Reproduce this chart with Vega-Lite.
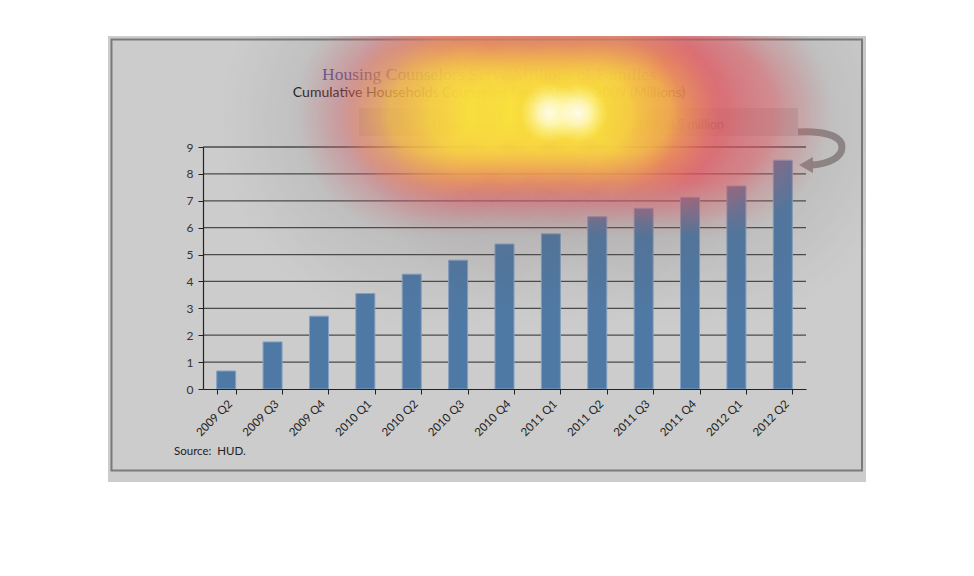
{
  "$schema": "https://vega.github.io/schema/vega-lite/v6.json",
  "width": 603,
  "height": 242,
  "autosize": {"type": "none"},
  "padding": {"left": 203, "top": 147, "right": 168, "bottom": 187},
  "background": "white",
  "config": {"view": {"stroke": null}},
  "datasets": {
    "counsel": [
      {"quarter": "2009 Q2", "households": 0.67},
      {"quarter": "2009 Q3", "households": 1.75},
      {"quarter": "2009 Q4", "households": 2.71},
      {"quarter": "2010 Q1", "households": 3.55},
      {"quarter": "2010 Q2", "households": 4.27},
      {"quarter": "2010 Q3", "households": 4.79},
      {"quarter": "2010 Q4", "households": 5.39},
      {"quarter": "2011 Q1", "households": 5.77},
      {"quarter": "2011 Q2", "households": 6.41},
      {"quarter": "2011 Q3", "households": 6.72},
      {"quarter": "2011 Q4", "households": 7.13},
      {"quarter": "2012 Q1", "households": 7.55},
      {"quarter": "2012 Q2", "households": 8.51}
    ],
    "grid": [{"g": 1}, {"g": 2}, {"g": 3}, {"g": 4}, {"g": 5}, {"g": 6}, {"g": 7}, {"g": 8}, {"g": 9}],
    "one": [{}]
  },
  "resolve": {"scale": {"x": "independent", "y": "independent"}},
  "layer": [
    {"data": {"name": "one"}, "mark": {"type": "rect", "fill": "#cccccc"},
      "encoding": {"x": {"datum": -2.048, "type": "quantitative", "scale": {"domain": [0, 13], "nice": false, "zero": false}, "axis": null}, "x2": {"datum": 14.294},
        "y": {"datum": 13.128, "type": "quantitative", "scale": {"domain": [0, 9], "nice": false, "zero": false}, "axis": null}, "y2": {"datum": -3.459}}},
    {"data": {"name": "one"}, "mark": {"type": "rect", "fill": null, "stroke": "#7a7a7a", "strokeWidth": 2},
      "encoding": {"x": {"datum": -1.973, "type": "quantitative", "scale": {"domain": [0, 13], "nice": false, "zero": false}, "axis": null}, "x2": {"datum": 14.207},
        "y": {"datum": 12.998, "type": "quantitative", "scale": {"domain": [0, 9], "nice": false, "zero": false}, "axis": null}, "y2": {"datum": -3.031}}},
    {"data": {"name": "grid"}, "mark": {"type": "rule", "stroke": "#4a4a4a", "strokeWidth": 1.3},
      "encoding": {"y": {"field": "g", "type": "quantitative", "scale": {"domain": [0, 9], "nice": false, "zero": false}, "axis": null}}},
    {
      "data": {"name": "counsel"},
      "mark": {"type": "bar", "fill": "#4f79a5", "stroke": "#86a0c2", "strokeWidth": 1},
      "encoding": {
        "x": {
          "field": "quarter", "type": "nominal", "sort": null,
          "scale": {"paddingInner": 0.59, "paddingOuter": 0.295},
          "axis": {
            "title": null, "labelAngle": -45, "labelFont": "Lato", "labelFontSize": 11.5, "labelColor": "#222222",
            "tickBand": "extent", "tickSize": 5, "tickColor": "#222222", "domainColor": "#222222", "domainWidth": 1.2,
            "labelPadding": 4, "zindex": 1
          }
        },
        "y": {
          "field": "households", "type": "quantitative",
          "scale": {"domain": [0, 9], "nice": false, "zero": false},
          "axis": {
            "title": null, "values": [0, 1, 2, 3, 4, 5, 6, 7, 8, 9], "grid": false, "labelFont": "Lato", "labelFontSize": 12,
            "labelColor": "#333333", "tickSize": 5, "tickColor": "#222222", "domainColor": "#222222", "domainWidth": 1.2,
            "labelPadding": 5, "zindex": 1
          }
        }
      }
    },
    {"data": {"name": "one"}, "mark": {"type": "rect", "fill": "#8f8f8f", "fillOpacity": 0.3},
      "encoding": {"x": {"datum": 3.363, "type": "quantitative", "scale": {"domain": [0, 13], "nice": false, "zero": false}, "axis": null}, "x2": {"datum": 12.828},
        "y": {"datum": 10.450, "type": "quantitative", "scale": {"domain": [0, 9], "nice": false, "zero": false}, "axis": null}, "y2": {"datum": 9.409}}},
    {"data": {"name": "one"}, "mark": {"type": "text", "text": "Households counseled since April 1, 2009: 8.5 million", "font": "Lato", "fontSize": 12.5, "color": "#808080", "align": "center", "baseline": "alphabetic"},
      "encoding": {"x": {"datum": 8.085, "type": "quantitative", "scale": {"domain": [0, 13], "nice": false, "zero": false}, "axis": null},
        "y": {"datum": 9.669, "type": "quantitative", "scale": {"domain": [0, 9], "nice": false, "zero": false}, "axis": null}}},
    {"data": {"name": "one"}, "mark": {"type": "point", "shape": "M -0.88 -0.56 C 0 -0.62 0.88 -0.45 0.88 0.04 C 0.88 0.48 0.3 0.72 -0.32 0.76", "size": 2500, "filled": false, "stroke": "#8b8282", "strokeWidth": 7, "opacity": 0.9},
      "encoding": {"x": {"datum": 13.302, "type": "quantitative", "scale": {"domain": [0, 13], "nice": false, "zero": false}, "axis": null},
        "y": {"datum": 9.037, "type": "quantitative", "scale": {"domain": [0, 9], "nice": false, "zero": false}, "axis": null}}},
    {"data": {"name": "one"}, "mark": {"type": "point", "shape": "triangle-left", "size": 256, "filled": true, "fill": "#8b8282", "opacity": 0.9},
      "encoding": {"x": {"datum": 13.0, "type": "quantitative", "scale": {"domain": [0, 13], "nice": false, "zero": false}, "axis": null},
        "y": {"datum": 8.331, "type": "quantitative", "scale": {"domain": [0, 9], "nice": false, "zero": false}, "axis": null}}},
    {"data": {"name": "one"}, "mark": {"type": "text", "text": "Housing Counselors Serve Millions of Families", "font": "Liberation Serif", "fontSize": 17.5, "color": "#4a5a96", "align": "center", "baseline": "alphabetic"},
      "encoding": {"x": {"datum": 6.166, "type": "quantitative", "scale": {"domain": [0, 13], "nice": false, "zero": false}, "axis": null},
        "y": {"datum": 11.491, "type": "quantitative", "scale": {"domain": [0, 9], "nice": false, "zero": false}, "axis": null}}},
    {"data": {"name": "one"}, "mark": {"type": "text", "text": "Cumulative Households Counseled Since April 1, 2009 (Millions)", "font": "Lato", "fontSize": 14, "color": "#1a1a1a", "align": "center", "baseline": "alphabetic"},
      "encoding": {"x": {"datum": 6.166, "type": "quantitative", "scale": {"domain": [0, 13], "nice": false, "zero": false}, "axis": null},
        "y": {"datum": 10.859, "type": "quantitative", "scale": {"domain": [0, 9], "nice": false, "zero": false}, "axis": null}}},
    {"data": {"name": "one"}, "mark": {"type": "text", "text": "Source:\u00a0 HUD.", "font": "Lato", "fontSize": 11.5, "color": "#222222", "align": "left", "baseline": "alphabetic"},
      "encoding": {"x": {"datum": -0.625, "type": "quantitative", "scale": {"domain": [0, 13], "nice": false, "zero": false}, "axis": null},
        "y": {"datum": -2.455, "type": "quantitative", "scale": {"domain": [0, 9], "nice": false, "zero": false}, "axis": null}}},

    {"data": {"name": "one"}, "mark": {"type": "point", "shape": "circle", "size": 176400, "filled": true, "strokeWidth": 0, "opacity": 1,
      "fill": {"gradient": "radial", "x1": 0.5, "y1": 0.5, "r1": 0, "x2": 0.5, "y2": 0.5, "r2": 0.5, "stops": [{"offset": 0, "color": "rgba(100,90,90,0.17)"}, {"offset": 0.5, "color": "rgba(100,90,90,0.14)"}, {"offset": 1, "color": "rgba(100,90,90,0)"}]}},
      "encoding": {"x": {"datum": 4.894, "type": "quantitative", "scale": {"domain": [0, 13], "nice": false, "zero": false}, "axis": null}, "y": {"datum": 10.004, "type": "quantitative", "scale": {"domain": [0, 9], "nice": false, "zero": false}, "axis": null}}},
    {"data": {"name": "one"}, "mark": {"type": "point", "shape": "circle", "size": 176400, "filled": true, "strokeWidth": 0, "opacity": 1,
      "fill": {"gradient": "radial", "x1": 0.5, "y1": 0.5, "r1": 0, "x2": 0.5, "y2": 0.5, "r2": 0.5, "stops": [{"offset": 0, "color": "rgba(100,90,90,0.17)"}, {"offset": 0.5, "color": "rgba(100,90,90,0.14)"}, {"offset": 1, "color": "rgba(100,90,90,0)"}]}},
      "encoding": {"x": {"datum": 7.783, "type": "quantitative", "scale": {"domain": [0, 13], "nice": false, "zero": false}, "axis": null}, "y": {"datum": 10.004, "type": "quantitative", "scale": {"domain": [0, 9], "nice": false, "zero": false}, "axis": null}}},
    {"data": {"name": "one"}, "mark": {"type": "point", "shape": "circle", "size": 176400, "filled": true, "strokeWidth": 0, "opacity": 1,
      "fill": {"gradient": "radial", "x1": 0.5, "y1": 0.5, "r1": 0, "x2": 0.5, "y2": 0.5, "r2": 0.5, "stops": [{"offset": 0, "color": "rgba(100,90,90,0.17)"}, {"offset": 0.5, "color": "rgba(100,90,90,0.14)"}, {"offset": 1, "color": "rgba(100,90,90,0)"}]}},
      "encoding": {"x": {"datum": 10.715, "type": "quantitative", "scale": {"domain": [0, 13], "nice": false, "zero": false}, "axis": null}, "y": {"datum": 10.004, "type": "quantitative", "scale": {"domain": [0, 9], "nice": false, "zero": false}, "axis": null}}},

    {"data": {"name": "one"}, "mark": {"type": "point", "shape": "circle", "size": 62500, "filled": true, "strokeWidth": 0, "opacity": 1,
      "fill": {"gradient": "radial", "x1": 0.5, "y1": 0.5, "r1": 0, "x2": 0.5, "y2": 0.5, "r2": 0.5, "stops": [{"offset": 0, "color": "rgba(235,80,90,0.4)"}, {"offset": 0.55, "color": "rgba(235,80,90,0.4)"}, {"offset": 0.8, "color": "rgba(225,95,105,0.19)"}, {"offset": 1, "color": "rgba(210,110,120,0)"}]}},
      "encoding": {"x": {"datum": 4.678, "type": "quantitative", "scale": {"domain": [0, 13], "nice": false, "zero": false}, "axis": null}, "y": {"datum": 10.264, "type": "quantitative", "scale": {"domain": [0, 9], "nice": false, "zero": false}, "axis": null}}},
    {"data": {"name": "one"}, "mark": {"type": "point", "shape": "circle", "size": 62500, "filled": true, "strokeWidth": 0, "opacity": 1,
      "fill": {"gradient": "radial", "x1": 0.5, "y1": 0.5, "r1": 0, "x2": 0.5, "y2": 0.5, "r2": 0.5, "stops": [{"offset": 0, "color": "rgba(235,80,90,0.4)"}, {"offset": 0.55, "color": "rgba(235,80,90,0.4)"}, {"offset": 0.8, "color": "rgba(225,95,105,0.19)"}, {"offset": 1, "color": "rgba(210,110,120,0)"}]}},
      "encoding": {"x": {"datum": 5.713, "type": "quantitative", "scale": {"domain": [0, 13], "nice": false, "zero": false}, "axis": null}, "y": {"datum": 10.264, "type": "quantitative", "scale": {"domain": [0, 9], "nice": false, "zero": false}, "axis": null}}},
    {"data": {"name": "one"}, "mark": {"type": "point", "shape": "circle", "size": 62500, "filled": true, "strokeWidth": 0, "opacity": 1,
      "fill": {"gradient": "radial", "x1": 0.5, "y1": 0.5, "r1": 0, "x2": 0.5, "y2": 0.5, "r2": 0.5, "stops": [{"offset": 0, "color": "rgba(235,80,90,0.4)"}, {"offset": 0.55, "color": "rgba(235,80,90,0.4)"}, {"offset": 0.8, "color": "rgba(225,95,105,0.19)"}, {"offset": 1, "color": "rgba(210,110,120,0)"}]}},
      "encoding": {"x": {"datum": 6.748, "type": "quantitative", "scale": {"domain": [0, 13], "nice": false, "zero": false}, "axis": null}, "y": {"datum": 10.264, "type": "quantitative", "scale": {"domain": [0, 9], "nice": false, "zero": false}, "axis": null}}},
    {"data": {"name": "one"}, "mark": {"type": "point", "shape": "circle", "size": 62500, "filled": true, "strokeWidth": 0, "opacity": 1,
      "fill": {"gradient": "radial", "x1": 0.5, "y1": 0.5, "r1": 0, "x2": 0.5, "y2": 0.5, "r2": 0.5, "stops": [{"offset": 0, "color": "rgba(235,80,90,0.4)"}, {"offset": 0.55, "color": "rgba(235,80,90,0.4)"}, {"offset": 0.8, "color": "rgba(225,95,105,0.19)"}, {"offset": 1, "color": "rgba(210,110,120,0)"}]}},
      "encoding": {"x": {"datum": 7.783, "type": "quantitative", "scale": {"domain": [0, 13], "nice": false, "zero": false}, "axis": null}, "y": {"datum": 10.264, "type": "quantitative", "scale": {"domain": [0, 9], "nice": false, "zero": false}, "axis": null}}},
    {"data": {"name": "one"}, "mark": {"type": "point", "shape": "circle", "size": 62500, "filled": true, "strokeWidth": 0, "opacity": 1,
      "fill": {"gradient": "radial", "x1": 0.5, "y1": 0.5, "r1": 0, "x2": 0.5, "y2": 0.5, "r2": 0.5, "stops": [{"offset": 0, "color": "rgba(235,80,90,0.4)"}, {"offset": 0.55, "color": "rgba(235,80,90,0.4)"}, {"offset": 0.8, "color": "rgba(225,95,105,0.19)"}, {"offset": 1, "color": "rgba(210,110,120,0)"}]}},
      "encoding": {"x": {"datum": 8.818, "type": "quantitative", "scale": {"domain": [0, 13], "nice": false, "zero": false}, "axis": null}, "y": {"datum": 10.264, "type": "quantitative", "scale": {"domain": [0, 9], "nice": false, "zero": false}, "axis": null}}},
    {"data": {"name": "one"}, "mark": {"type": "point", "shape": "circle", "size": 62500, "filled": true, "strokeWidth": 0, "opacity": 1,
      "fill": {"gradient": "radial", "x1": 0.5, "y1": 0.5, "r1": 0, "x2": 0.5, "y2": 0.5, "r2": 0.5, "stops": [{"offset": 0, "color": "rgba(235,80,90,0.4)"}, {"offset": 0.55, "color": "rgba(235,80,90,0.4)"}, {"offset": 0.8, "color": "rgba(225,95,105,0.19)"}, {"offset": 1, "color": "rgba(210,110,120,0)"}]}},
      "encoding": {"x": {"datum": 9.853, "type": "quantitative", "scale": {"domain": [0, 13], "nice": false, "zero": false}, "axis": null}, "y": {"datum": 10.264, "type": "quantitative", "scale": {"domain": [0, 9], "nice": false, "zero": false}, "axis": null}}},
    {"data": {"name": "one"}, "mark": {"type": "point", "shape": "circle", "size": 62500, "filled": true, "strokeWidth": 0, "opacity": 1,
      "fill": {"gradient": "radial", "x1": 0.5, "y1": 0.5, "r1": 0, "x2": 0.5, "y2": 0.5, "r2": 0.5, "stops": [{"offset": 0, "color": "rgba(235,80,90,0.4)"}, {"offset": 0.55, "color": "rgba(235,80,90,0.4)"}, {"offset": 0.8, "color": "rgba(225,95,105,0.19)"}, {"offset": 1, "color": "rgba(210,110,120,0)"}]}},
      "encoding": {"x": {"datum": 10.887, "type": "quantitative", "scale": {"domain": [0, 13], "nice": false, "zero": false}, "axis": null}, "y": {"datum": 10.264, "type": "quantitative", "scale": {"domain": [0, 9], "nice": false, "zero": false}, "axis": null}}},

    {"data": {"name": "one"}, "mark": {"type": "point", "shape": "circle", "size": 32400, "filled": true, "strokeWidth": 0, "opacity": 1,
      "fill": {"gradient": "radial", "x1": 0.5, "y1": 0.5, "r1": 0, "x2": 0.5, "y2": 0.5, "r2": 0.5, "stops": [{"offset": 0, "color": "rgba(255,255,50,0.42)"}, {"offset": 0.45, "color": "rgba(255,255,50,0.42)"}, {"offset": 0.7, "color": "rgba(255,240,60,0.22)"}, {"offset": 1, "color": "rgba(250,200,70,0)"}]}},
      "encoding": {"x": {"datum": 4.894, "type": "quantitative", "scale": {"domain": [0, 13], "nice": false, "zero": false}, "axis": null}, "y": {"datum": 10.264, "type": "quantitative", "scale": {"domain": [0, 9], "nice": false, "zero": false}, "axis": null}}},
    {"data": {"name": "one"}, "mark": {"type": "point", "shape": "circle", "size": 32400, "filled": true, "strokeWidth": 0, "opacity": 1,
      "fill": {"gradient": "radial", "x1": 0.5, "y1": 0.5, "r1": 0, "x2": 0.5, "y2": 0.5, "r2": 0.5, "stops": [{"offset": 0, "color": "rgba(255,255,50,0.42)"}, {"offset": 0.45, "color": "rgba(255,255,50,0.42)"}, {"offset": 0.7, "color": "rgba(255,240,60,0.22)"}, {"offset": 1, "color": "rgba(250,200,70,0)"}]}},
      "encoding": {"x": {"datum": 5.756, "type": "quantitative", "scale": {"domain": [0, 13], "nice": false, "zero": false}, "axis": null}, "y": {"datum": 10.264, "type": "quantitative", "scale": {"domain": [0, 9], "nice": false, "zero": false}, "axis": null}}},
    {"data": {"name": "one"}, "mark": {"type": "point", "shape": "circle", "size": 32400, "filled": true, "strokeWidth": 0, "opacity": 1,
      "fill": {"gradient": "radial", "x1": 0.5, "y1": 0.5, "r1": 0, "x2": 0.5, "y2": 0.5, "r2": 0.5, "stops": [{"offset": 0, "color": "rgba(255,255,50,0.42)"}, {"offset": 0.45, "color": "rgba(255,255,50,0.42)"}, {"offset": 0.7, "color": "rgba(255,240,60,0.22)"}, {"offset": 1, "color": "rgba(250,200,70,0)"}]}},
      "encoding": {"x": {"datum": 6.619, "type": "quantitative", "scale": {"domain": [0, 13], "nice": false, "zero": false}, "axis": null}, "y": {"datum": 10.264, "type": "quantitative", "scale": {"domain": [0, 9], "nice": false, "zero": false}, "axis": null}}},
    {"data": {"name": "one"}, "mark": {"type": "point", "shape": "circle", "size": 32400, "filled": true, "strokeWidth": 0, "opacity": 1,
      "fill": {"gradient": "radial", "x1": 0.5, "y1": 0.5, "r1": 0, "x2": 0.5, "y2": 0.5, "r2": 0.5, "stops": [{"offset": 0, "color": "rgba(255,255,50,0.42)"}, {"offset": 0.45, "color": "rgba(255,255,50,0.42)"}, {"offset": 0.7, "color": "rgba(255,240,60,0.22)"}, {"offset": 1, "color": "rgba(250,200,70,0)"}]}},
      "encoding": {"x": {"datum": 7.481, "type": "quantitative", "scale": {"domain": [0, 13], "nice": false, "zero": false}, "axis": null}, "y": {"datum": 10.264, "type": "quantitative", "scale": {"domain": [0, 9], "nice": false, "zero": false}, "axis": null}}},
    {"data": {"name": "one"}, "mark": {"type": "point", "shape": "circle", "size": 32400, "filled": true, "strokeWidth": 0, "opacity": 1,
      "fill": {"gradient": "radial", "x1": 0.5, "y1": 0.5, "r1": 0, "x2": 0.5, "y2": 0.5, "r2": 0.5, "stops": [{"offset": 0, "color": "rgba(255,255,50,0.42)"}, {"offset": 0.45, "color": "rgba(255,255,50,0.42)"}, {"offset": 0.7, "color": "rgba(255,240,60,0.22)"}, {"offset": 1, "color": "rgba(250,200,70,0)"}]}},
      "encoding": {"x": {"datum": 8.343, "type": "quantitative", "scale": {"domain": [0, 13], "nice": false, "zero": false}, "axis": null}, "y": {"datum": 10.264, "type": "quantitative", "scale": {"domain": [0, 9], "nice": false, "zero": false}, "axis": null}}},
    {"data": {"name": "one"}, "mark": {"type": "point", "shape": "circle", "size": 32400, "filled": true, "strokeWidth": 0, "opacity": 1,
      "fill": {"gradient": "radial", "x1": 0.5, "y1": 0.5, "r1": 0, "x2": 0.5, "y2": 0.5, "r2": 0.5, "stops": [{"offset": 0, "color": "rgba(255,255,50,0.42)"}, {"offset": 0.45, "color": "rgba(255,255,50,0.42)"}, {"offset": 0.7, "color": "rgba(255,240,60,0.22)"}, {"offset": 1, "color": "rgba(250,200,70,0)"}]}},
      "encoding": {"x": {"datum": 9.206, "type": "quantitative", "scale": {"domain": [0, 13], "nice": false, "zero": false}, "axis": null}, "y": {"datum": 10.264, "type": "quantitative", "scale": {"domain": [0, 9], "nice": false, "zero": false}, "axis": null}}},

    {"data": {"name": "one"}, "mark": {"type": "point", "shape": "circle", "size": 3600, "filled": true, "strokeWidth": 0, "opacity": 1,
      "fill": {"gradient": "radial", "x1": 0.5, "y1": 0.5, "r1": 0, "x2": 0.5, "y2": 0.5, "r2": 0.5, "stops": [{"offset": 0, "color": "rgba(255,255,255,0.9)"}, {"offset": 0.4, "color": "rgba(255,255,235,0.65)"}, {"offset": 1, "color": "rgba(255,255,150,0)"}]}},
      "encoding": {"x": {"datum": 7.481, "type": "quantitative", "scale": {"domain": [0, 13], "nice": false, "zero": false}, "axis": null}, "y": {"datum": 10.264, "type": "quantitative", "scale": {"domain": [0, 9], "nice": false, "zero": false}, "axis": null}}},
    {"data": {"name": "one"}, "mark": {"type": "point", "shape": "circle", "size": 3600, "filled": true, "strokeWidth": 0, "opacity": 1,
      "fill": {"gradient": "radial", "x1": 0.5, "y1": 0.5, "r1": 0, "x2": 0.5, "y2": 0.5, "r2": 0.5, "stops": [{"offset": 0, "color": "rgba(255,255,255,0.9)"}, {"offset": 0.4, "color": "rgba(255,255,235,0.65)"}, {"offset": 1, "color": "rgba(255,255,150,0)"}]}},
      "encoding": {"x": {"datum": 8.085, "type": "quantitative", "scale": {"domain": [0, 13], "nice": false, "zero": false}, "axis": null}, "y": {"datum": 10.264, "type": "quantitative", "scale": {"domain": [0, 9], "nice": false, "zero": false}, "axis": null}}},

    {"data": {"name": "one"}, "mark": {"type": "rect", "fill": "white"},
      "encoding": {"x": {"datum": -4.5, "type": "quantitative", "scale": {"domain": [0, 13], "nice": false, "zero": false}, "axis": null}, "x2": {"datum": 16.8},
        "y": {"datum": 13.128, "type": "quantitative", "scale": {"domain": [0, 9], "nice": false, "zero": false}, "axis": null}, "y2": {"datum": 14.7}}},
    {"data": {"name": "one"}, "mark": {"type": "rect", "fill": "white"},
      "encoding": {"x": {"datum": 14.294, "type": "quantitative", "scale": {"domain": [0, 13], "nice": false, "zero": false}, "axis": null}, "x2": {"datum": 16.8},
        "y": {"datum": -7.5, "type": "quantitative", "scale": {"domain": [0, 9], "nice": false, "zero": false}, "axis": null}, "y2": {"datum": 14.7}}}
  ]
}
